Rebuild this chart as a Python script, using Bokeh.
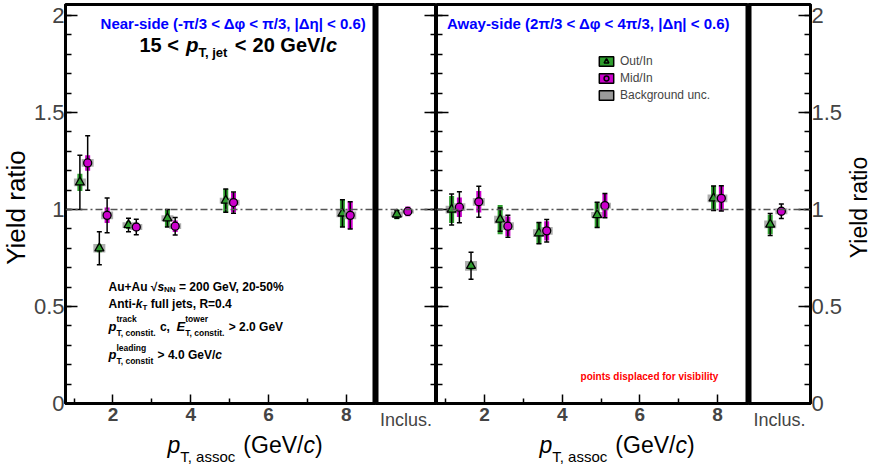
import re
import numpy as np
from bokeh.plotting import figure
from bokeh.layouts import row, column
from bokeh.models import Range1d, FixedTicker, Label, Span, Legend, LegendItem
from bokeh.embed import file_html
from bokeh.resources import INLINE

# ---------------- data ----------------
x_out = [1.15, 1.65, 2.4, 3.4, 4.9, 7.9]     # Out/In (displaced)
x_mid = [1.35, 1.85, 2.6, 3.6, 5.1, 8.1]     # Mid/In (displaced)

near_out = [1.14, 0.80, 0.92, 0.955, 1.046, 0.98]
near_out_stat = [0.14, 0.085, 0.035, 0.045, 0.06, 0.07]
near_out_sys = [0.045, 0.02, 0.02, 0.045, 0.06, 0.07]
near_out_bkg = [0.02, 0.022, 0.015, 0.015, 0.015, 0.02]
near_mid = [1.24, 0.97, 0.91, 0.914, 1.036, 0.97]
near_mid_stat = [0.14, 0.09, 0.04, 0.045, 0.055, 0.07]
near_mid_sys = [0.04, 0.04, 0.02, 0.03, 0.05, 0.07]
near_mid_bkg = [0.02, 0.02, 0.015, 0.015, 0.015, 0.02]

away_out = [1.00, 0.71, 0.948, 0.878, 0.972, 1.058]
away_out_stat = [0.08, 0.07, 0.06, 0.055, 0.065, 0.063]
away_out_sys = [0.07, 0.02, 0.075, 0.055, 0.065, 0.065]
away_out_bkg = [0.02, 0.025, 0.02, 0.02, 0.015, 0.02]
away_mid = [1.012, 1.04, 0.914, 0.89, 1.02, 1.058]
away_mid_stat = [0.08, 0.08, 0.057, 0.058, 0.063, 0.065]
away_mid_sys = [0.05, 0.055, 0.05, 0.05, 0.06, 0.065]
away_mid_bkg = [0.02, 0.02, 0.02, 0.02, 0.015, 0.02]

incl_x_out = [0.35]
incl_x_mid = [0.53]
near_incl_out, near_incl_out_stat, near_incl_out_sys, near_incl_out_bkg = [0.975], [0.02], [0.025], [0.015]
near_incl_mid, near_incl_mid_stat, near_incl_mid_sys, near_incl_mid_bkg = [0.99], [0.015], [0.025], [0.01]
away_incl_out, away_incl_out_stat, away_incl_out_sys, away_incl_out_bkg = [0.923], [0.057], [0.05], [0.02]
away_incl_mid, away_incl_mid_stat, away_incl_mid_sys, away_incl_mid_bkg = [0.991], [0.037], [0.02], [0.015]

y_ticks = [0, 0.5, 1, 1.5, 2]
y_tick_labels = ["0", "0.5", "1", "1.5", "2"]
x_ticks = [2, 4, 6, 8]
incl_label = "Inclus."

# ---------------- style ----------------
FONT = "Liberation Sans"
GREEN = "#2e9e2e"
MAGENTA = "#cc00cc"
GREY = "#9a9a9a"
TOPB = 4
FH = 399
BOTB = 29
YTOP = 2.057
FRAME_BOTTOM = TOPB + FH   # 403
TOTAL_H = 469

REG = {' ': 278, '(': 333, ')': 333, '+': 584, ',': 278, '-': 333, '.': 278, '/': 278, '<': 584,
       '=': 584, '>': 584, '%': 889, '|': 260, 'A': 667, 'B': 667, 'C': 722, 'E': 667, 'G': 778,
       'I': 278, 'N': 722, 'R': 722, 'T': 611, 'V': 667, 'Y': 667, 'a': 556, 'b': 556, 'c': 500,
       'd': 556, 'e': 556, 'f': 278, 'g': 556, 'h': 556, 'i': 222, 'j': 222, 'k': 500, 'l': 222,
       'm': 833, 'n': 556, 'o': 556, 'p': 556, 'r': 333, 's': 500, 't': 278, 'u': 556, 'v': 500,
       'w': 722, 'x': 500, 'y': 500}
BOLD = {' ': 278, '(': 333, ')': 333, '+': 584, ',': 278, '-': 333, '.': 278, '/': 278, '<': 584,
        '=': 584, '>': 584, '%': 889, '|': 280, 'A': 722, 'E': 667, 'G': 778, 'N': 722, 'R': 722,
        'T': 611, 'V': 667, 'a': 556, 'b': 611, 'c': 556, 'd': 611, 'e': 556, 'f': 333, 'g': 611,
        'i': 278, 'j': 278, 'k': 556, 'l': 278, 'n': 611, 'o': 611, 'p': 611, 'r': 389, 's': 556,
        't': 333, 'u': 611, 'v': 556, 'w': 778, 'y': 556, '\u221a': 549}
for d in "0123456789":
    REG[d] = 556
    BOLD[d] = 556


def tw(s, size, style):
    tab = BOLD if "bold" in style else REG
    return sum(tab.get(c, 556) for c in s) * size / 1000.0


def put(fig, sx, sy, text, size, style="bold", color="black", align="left", angle=0):
    fig.add_layout(Label(x=sx, y=sy, x_units="screen", y_units="screen", text=text,
                         text_font=FONT, text_font_size=f"{size}px", text_font_style=style,
                         text_color=color, text_align=align, text_baseline="middle",
                         angle=angle, angle_units="deg"))


def rich(fig, sx, sy, pieces):
    """pieces: (text, size, style, dy[, dx]) or ('#stack', sup, sub, size, style, dsup, dsub).
    Spaces at the ends of a piece only advance the pen (SVG would drop them)."""
    x = sx
    for pc in pieces:
        if pc[0] == "#stack":
            _, sup, sub, size, style, dsup, dsub = pc
            put(fig, x, sy + dsup, sup, size, style)
            put(fig, x, sy + dsub, sub, size, style)
            x += max(tw(sup, size, style), tw(sub, size, style))
        else:
            text, size, style, dy = pc[:4]
            dx = pc[4] if len(pc) > 4 else 0
            x += dx
            sp = tw(" ", size, style)
            lead = len(text) - len(text.lstrip(" "))
            trail = len(text) - len(text.rstrip(" "))
            core = re.sub(" +", " ", text.strip())
            x += lead * sp
            if core:
                put(fig, x, sy + dy, core, size, style)
            x += tw(core, size, style) + trail * sp
    return x


def blank_fig(fw, fh, top, bottom):
    p = figure(frame_width=fw, frame_height=fh, x_range=Range1d(0, 1), y_range=Range1d(0, 1),
               min_border_left=0, min_border_right=0, min_border_top=top, min_border_bottom=bottom,
               toolbar_location=None, output_backend="svg", x_axis_location=None, y_axis_location=None)
    p.outline_line_color = None
    p.xgrid.visible = False
    p.ygrid.visible = False
    p.background_fill_color = "white"
    p.border_fill_color = "white"
    return p


def make_fig(fw, xr, left, right, yloc):
    p = figure(frame_width=fw, frame_height=FH, x_range=Range1d(*xr), y_range=Range1d(0, YTOP),
               min_border_left=left, min_border_right=right, min_border_top=TOPB, min_border_bottom=BOTB,
               toolbar_location=None, output_backend="svg", y_axis_location=yloc)
    p.xgrid.visible = False
    p.ygrid.visible = False
    p.outline_line_color = "black"
    p.outline_line_width = 3
    p.background_fill_color = "white"
    p.border_fill_color = "white"
    ya = p.yaxis[0]
    ya.ticker = FixedTicker(ticks=y_ticks, minor_ticks=[round(0.1 * k, 2) for k in range(21)])
    ya.major_tick_in = 12
    ya.major_tick_out = 0
    ya.minor_tick_in = 6
    ya.minor_tick_out = 0
    ya.major_tick_line_width = 1.5
    ya.minor_tick_line_width = 1.5
    ya.axis_line_width = 3
    ya.major_label_overrides = dict(zip(y_ticks, y_tick_labels))
    ya.major_label_text_font = FONT
    ya.major_label_text_font_size = "22px"
    ya.major_label_standoff = 1
    p.add_layout(Span(location=1.0, dimension="width", line_color="#555555", line_width=1.5,
                      line_dash="7 3 2 3"))
    return p


def hide_labels(ax):
    ax.major_label_overrides = {t: "" for t in y_ticks}
    ax.major_label_standoff = 0


def main_xaxis(p):
    xa = p.xaxis[0]
    xa.ticker = FixedTicker(ticks=x_ticks, minor_ticks=[1, 3, 5, 7])
    xa.major_tick_in = 9
    xa.major_tick_out = 0
    xa.minor_tick_in = 5
    xa.minor_tick_out = 0
    xa.major_tick_line_width = 1.5
    xa.minor_tick_line_width = 1.5
    xa.axis_line_width = 3
    xa.major_label_text_font = FONT
    xa.major_label_text_font_style = "bold"
    xa.major_label_text_font_size = "19px"
    xa.major_label_standoff = 4


def incl_xaxis(p):
    xa = p.xaxis[0]
    xa.ticker = FixedTicker(ticks=[0.5])
    xa.major_label_overrides = {0.5: incl_label}
    xa.major_tick_line_color = None
    xa.minor_tick_line_color = None
    xa.axis_line_width = 3
    xa.major_label_text_font = FONT
    xa.major_label_text_font_size = "18px"
    xa.major_label_standoff = 0


def draw_series(p, x, y, stat, sys, bkg, color, marker, size):
    y = np.asarray(y, float)
    stat = np.asarray(stat, float)
    sys = np.asarray(sys, float)
    bkg = np.asarray(bkg, float)
    p.rect(x=x, y=y, width=12, width_units="screen", height=2 * bkg, fill_color=GREY,
           fill_alpha=0.8, line_color=None)
    p.rect(x=x, y=y, width=5, width_units="screen", height=2 * sys, fill_color=color,
           line_color=None)
    p.segment(x0=x, y0=y - stat, x1=x, y1=y + stat, line_color="black", line_width=1.5)
    p.scatter(x=x, y=y + stat, marker="dash", size=5, line_color="black", line_width=1.5)
    p.scatter(x=x, y=y - stat, marker="dash", size=5, line_color="black", line_width=1.5)
    p.scatter(x=x, y=y, marker=marker, size=size, fill_color=color, line_color="black",
              line_width=1.3)


XR_NEAR = (0.78, 8.75)
XR_AWAY = (0.76, 8.8)

# ---- side strips for the vertical axis titles ----
sl = blank_fig(30, FH, TOPB, BOTB)
sr = blank_fig(27, FH, TOPB, BOTB)

# ---- figure 1: near-side main ----
f1 = make_fig(310, XR_NEAR, 35, 0, "left")
main_xaxis(f1)
f1.add_layout(Span(location=XR_NEAR[1], dimension="height", line_color="black", line_width=6))
draw_series(f1, x_out, near_out, near_out_stat, near_out_sys, near_out_bkg, GREEN, "triangle", 9)
draw_series(f1, x_mid, near_mid, near_mid_stat, near_mid_sys, near_mid_bkg, MAGENTA, "circle", 8)

# ---- figure 2: near-side inclusive ----
f2 = make_fig(61, (0, 1), 0, 0, "right")
hide_labels(f2.yaxis[0])
incl_xaxis(f2)
f2.add_layout(Span(location=0, dimension="height", line_color="black", line_width=6))
draw_series(f2, incl_x_out, near_incl_out, near_incl_out_stat, near_incl_out_sys, near_incl_out_bkg, GREEN, "triangle", 9)
draw_series(f2, incl_x_mid, near_incl_mid, near_incl_mid_stat, near_incl_mid_sys, near_incl_mid_bkg, MAGENTA, "circle", 8)

# ---- figure 3: away-side main ----
f3 = make_fig(312, XR_AWAY, 0, 0, "left")
hide_labels(f3.yaxis[0])
main_xaxis(f3)
f3.add_layout(Span(location=XR_AWAY[1], dimension="height", line_color="black", line_width=6))
draw_series(f3, x_out, away_out, away_out_stat, away_out_sys, away_out_bkg, GREEN, "triangle", 9)
draw_series(f3, x_mid, away_mid, away_mid_stat, away_mid_sys, away_mid_bkg, MAGENTA, "circle", 8)

# ---- figure 4: away-side inclusive ----
f4 = make_fig(62, (0, 1), 0, 35, "right")
incl_xaxis(f4)
f4.add_layout(Span(location=0, dimension="height", line_color="black", line_width=6))
draw_series(f4, incl_x_out, away_incl_out, away_incl_out_stat, away_incl_out_sys, away_incl_out_bkg, GREEN, "triangle", 9)
draw_series(f4, incl_x_mid, away_incl_mid, away_incl_mid_stat, away_incl_mid_sys, away_incl_mid_bkg, MAGENTA, "circle", 8)

# ---- legend (away-side) : proxy renderers with no visible point ----
nan = np.array([np.nan])
r_out_box = f3.rect(x=nan, y=nan, width=1, height=1, fill_color=GREEN, line_color="black", line_width=1.5)
r_out_mk = f3.scatter(x=nan, y=nan, marker="triangle", size=6, fill_color=GREEN, line_color="black", line_width=1.5)
r_mid_box = f3.rect(x=nan, y=nan, width=1, height=1, fill_color=MAGENTA, line_color="black", line_width=1.5)
r_mid_mk = f3.scatter(x=nan, y=nan, marker="circle", size=6, fill_color=MAGENTA, line_color="black", line_width=1.5)
r_bkg_box = f3.rect(x=nan, y=nan, width=1, height=1, fill_color=GREY, line_color="black", line_width=1.5)
legend = Legend(items=[LegendItem(label="Out/In", renderers=[r_out_box, r_out_mk]),
                       LegendItem(label="Mid/In", renderers=[r_mid_box, r_mid_mk]),
                       LegendItem(label="Background unc.", renderers=[r_bkg_box])],
                location=(161, 301), border_line_color=None, background_fill_alpha=0,
                padding=0, margin=0, spacing=3, glyph_width=18, glyph_height=12,
                label_height=12, label_standoff=5, label_text_font=FONT,
                label_text_font_size="12px")
f3.add_layout(legend)

# ---- texts (positions are vertical centres) ----
def S(px, py, frame_left):
    return px - frame_left, FRAME_BOTTOM - py

L1, L3 = 65, 436

put(f1, *S(233, 23, L1), "Near-side (-\u03c0/3 < \u0394\u03c6 < \u03c0/3, |\u0394\u03b7| < 0.6)", 15, color="#0000ff", align="center")
sx, sy = S(139, 44, L1)
rich(f1, sx, sy, [("15 <", 20, "bold", 0), ("p", 20.5, "bold italic", 0, 7),
                  ("T, jet", 13, "bold", -8), ("<", 20, "bold", 0, 6),
                  ("20 GeV/", 20, "bold", 0, 6), ("c", 20, "bold italic", 0)])

sx, sy = S(108, 286, L1)
rich(f1, sx, sy, [("Au+Au ", 12, "bold", 0), ("\u221a", 12, "bold", 0), ("s", 12, "bold italic", 0),
                  ("NN", 8, "bold", -3), (" = 200 GeV, 20-50%", 12, "bold", 0)])
sx, sy = S(108, 303, L1)
rich(f1, sx, sy, [("Anti-", 12, "bold", 0), ("k", 12, "bold italic", 0), ("T", 8, "bold", -3.5),
                  (" full jets, R=0.4", 12, "bold", 0)])
sx, sy = S(108, 326, L1)
rich(f1, sx, sy, [("p", 13, "bold italic", 0), ("#stack", "track", "T, constit.", 8.5, "bold", 8, -6),
                  (" c,  ", 12, "bold", 0), ("E", 13, "bold italic", 0),
                  ("#stack", "tower", "T, constit.", 8.5, "bold", 8, -6),
                  (" > 2.0 GeV", 12, "bold", 0)])
sx, sy = S(108, 354, L1)
rich(f1, sx, sy, [("p", 13, "bold italic", 0), ("#stack", "leading", "T, constit", 8.5, "bold", 7, -6),
                  (" > 4.0 GeV/", 12, "bold", 0), ("c", 12, "bold italic", 0)])

put(f3, *S(588, 23, L3), "Away-side (2\u03c0/3 < \u0394\u03c6 < 4\u03c0/3, |\u0394\u03b7| < 0.6)", 15, color="#0000ff", align="center")
put(f3, *S(649, 376, L3), "points displaced for visibility", 10, color="#ff0000", align="center")

# ---- bottom strip with x-axis titles ----
ROW_H = TOPB + FH + BOTB
sb = blank_fig(872, TOTAL_H - ROW_H, 0, 0)
for px in (167, 539):
    rich(sb, px, TOTAL_H - 444, [("p", 23, "italic", 0), ("T, assoc", 15, "normal", -12),
                                 (" (GeV/", 23, "normal", 0), ("c", 23, "italic", 0),
                                 (")", 23, "normal", 0)])

# ---- vertical axis titles ----
put(sl, 15, FRAME_BOTTOM - 207, "Yield ratio", 26, style="normal", align="center", angle=90)
put(sr, 13, FRAME_BOTTOM - 207, "Yield ratio", 23, style="normal", align="center", angle=90)

layout = column(row(sl, f1, f2, f3, f4, sr), sb)
open("out.html", "w").write(file_html(layout, INLINE))
